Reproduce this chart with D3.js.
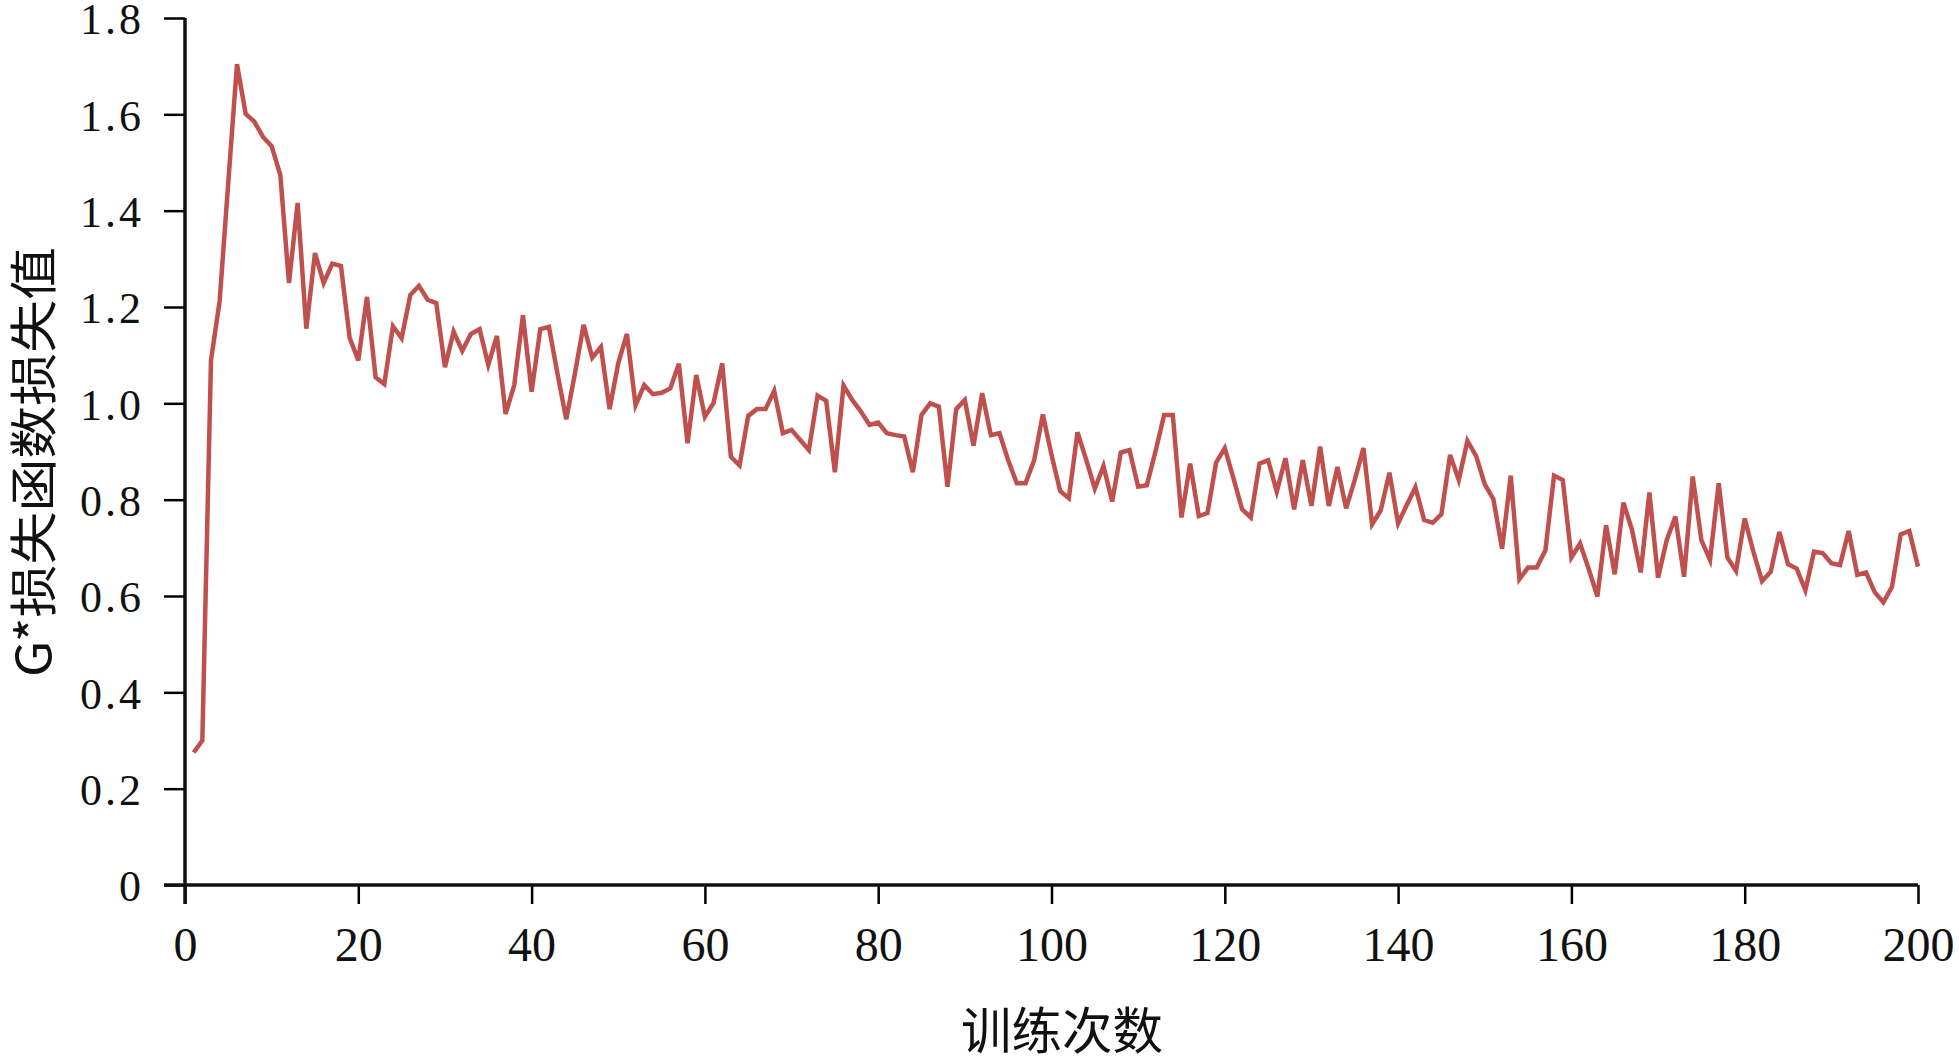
<!DOCTYPE html>
<html>
<head>
<meta charset="utf-8">
<script src="https://cdn.jsdelivr.net/npm/d3@7"></script>
<style>
  html, body { margin: 0; padding: 0; background: #fff; }
  svg { display: block; }
</style>
</head>
<body>
<svg id="chart" width="1959" height="1056"></svg>
<script>
// ---- data ----
const xTickValues = [0, 20, 40, 60, 80, 100, 120, 140, 160, 180, 200];
const yTickValues = [0, 0.2, 0.4, 0.6, 0.8, 1.0, 1.2, 1.4, 1.6, 1.8];
const yTickLabels = ["0", "0.2", "0.4", "0.6", "0.8", "1.0", "1.2", "1.4", "1.6", "1.8"];
const xTitle = "训练次数";
const yTitle = "G*损失函数损失值";
// loss for epochs 1..200
const lossValues = [
  0.275, 0.300, 1.089, 1.213, 1.460, 1.704, 1.601, 1.585, 1.553, 1.534,
  1.474, 1.250, 1.416, 1.155, 1.312, 1.250, 1.290, 1.285, 1.136, 1.089,
  1.221, 1.054, 1.040, 1.160, 1.135, 1.225, 1.244, 1.215, 1.208, 1.075,
  1.149, 1.109, 1.144, 1.154, 1.080, 1.140, 0.978, 1.038, 1.183, 1.024,
  1.154, 1.159, 1.060, 0.967, 1.062, 1.163, 1.095, 1.117, 0.988, 1.083,
  1.144, 0.996, 1.038, 1.019, 1.022, 1.031, 1.082, 0.917, 1.059, 0.972,
  1.001, 1.083, 0.889, 0.871, 0.974, 0.988, 0.988, 1.026, 0.938, 0.945,
  0.924, 0.903, 1.016, 1.005, 0.857, 1.037, 1.007, 0.983, 0.955, 0.960,
  0.938, 0.934, 0.931, 0.857, 0.976, 1.000, 0.993, 0.827, 0.988, 1.007,
  0.912, 1.021, 0.934, 0.938, 0.882, 0.834, 0.834, 0.882, 0.977, 0.893,
  0.818, 0.803, 0.940, 0.883, 0.823, 0.870, 0.796, 0.898, 0.903, 0.827,
  0.830, 0.900, 0.976, 0.976, 0.763, 0.875, 0.766, 0.772, 0.877, 0.907,
  0.844, 0.780, 0.763, 0.875, 0.882, 0.817, 0.886, 0.780, 0.882, 0.787,
  0.910, 0.787, 0.868, 0.782, 0.841, 0.907, 0.749, 0.778, 0.856, 0.751,
  0.789, 0.826, 0.758, 0.752, 0.770, 0.893, 0.841, 0.922, 0.891, 0.832,
  0.801, 0.698, 0.850, 0.635, 0.659, 0.659, 0.695, 0.850, 0.841, 0.680,
  0.709, 0.656, 0.599, 0.747, 0.645, 0.794, 0.737, 0.649, 0.815, 0.638,
  0.716, 0.765, 0.640, 0.848, 0.716, 0.675, 0.834, 0.680, 0.652, 0.761,
  0.692, 0.631, 0.650, 0.733, 0.666, 0.657, 0.612, 0.692, 0.689, 0.668,
  0.664, 0.735, 0.644, 0.649, 0.608, 0.587, 0.619, 0.728, 0.735, 0.661
];

// ---- layout ----
const W = 1959, H = 1056;
const margin = { left: 185, right: 41, top: 18, bottom: 171 };
const svg = d3.select("#chart");

const x = d3.scaleLinear().domain([0, 200]).range([margin.left, W - margin.right]);
const y = d3.scaleLinear().domain([0, 1.8]).range([H - margin.bottom, margin.top]);

const serif = "'Liberation Serif', 'Times New Roman', serif";
const cjk = "'Noto Sans CJK SC', 'Noto Sans', sans-serif";

// line
const line = d3.line()
  .x((d, i) => x(i + 1))
  .y(d => y(d));

svg.append("path")
  .datum(lossValues)
  .attr("fill", "none")
  .attr("stroke", "#C0504D")
  .attr("stroke-width", 4.5)
  .attr("stroke-linejoin", "miter")
  .attr("d", line);

// x axis
const xAxis = d3.axisBottom(x)
  .tickValues(xTickValues)
  .tickSize(19)
  .tickSizeOuter(0)
  .tickPadding(16)
  .tickFormat(d3.format("d"));

const gx = svg.append("g")
  .attr("transform", `translate(0,${y(0)})`)
  .call(xAxis);
gx.select(".domain").remove();
gx.selectAll(".tick line").attr("stroke", "#000").attr("stroke-width", 2.5);
gx.selectAll(".tick text")
  .attr("font-family", serif)
  .attr("font-size", 48)
  .attr("fill", "#111")
  .attr("dy", "0.85em");

// y axis
const yAxis = d3.axisLeft(y)
  .tickValues(yTickValues)
  .tickSize(21)
  .tickSizeOuter(0)
  .tickPadding(20)
  .tickFormat((d, i) => yTickLabels[i]);

const gy = svg.append("g")
  .attr("transform", `translate(${x(0)},0)`)
  .call(yAxis);
gy.select(".domain").remove();
gy.selectAll(".tick line").attr("stroke", "#000").attr("stroke-width", 2.5);
gy.selectAll(".tick text")
  .attr("font-family", serif)
  .attr("font-size", 44)
  .attr("letter-spacing", 3)
  .attr("fill", "#111")
  .attr("dy", "0.36em");

// axis lines
svg.append("line")
  .attr("x1", x(0) - 21).attr("x2", x(200))
  .attr("y1", y(0)).attr("y2", y(0))
  .attr("stroke", "#111").attr("stroke-width", 3.5);
svg.append("line")
  .attr("x1", x(0)).attr("x2", x(0))
  .attr("y1", y(0) + 19).attr("y2", y(1.8))
  .attr("stroke", "#111").attr("stroke-width", 3.5);

// axis titles
svg.append("text")
  .attr("x", 1062).attr("y", 1027)
  .attr("text-anchor", "middle")
  .attr("dominant-baseline", "central")
  .attr("font-family", cjk)
  .attr("font-size", 50)
  .attr("fill", "#111")
  .attr("textLength", 202)
  .attr("lengthAdjust", "spacingAndGlyphs")
  .text(xTitle);

svg.append("text")
  .attr("transform", "translate(30,462) rotate(-90)")
  .attr("text-anchor", "middle")
  .attr("dominant-baseline", "central")
  .attr("font-family", cjk)
  .attr("font-size", 48)
  .attr("fill", "#111")
  .attr("textLength", 430)
  .attr("lengthAdjust", "spacingAndGlyphs")
  .text(yTitle);
</script>
</body>
</html>
